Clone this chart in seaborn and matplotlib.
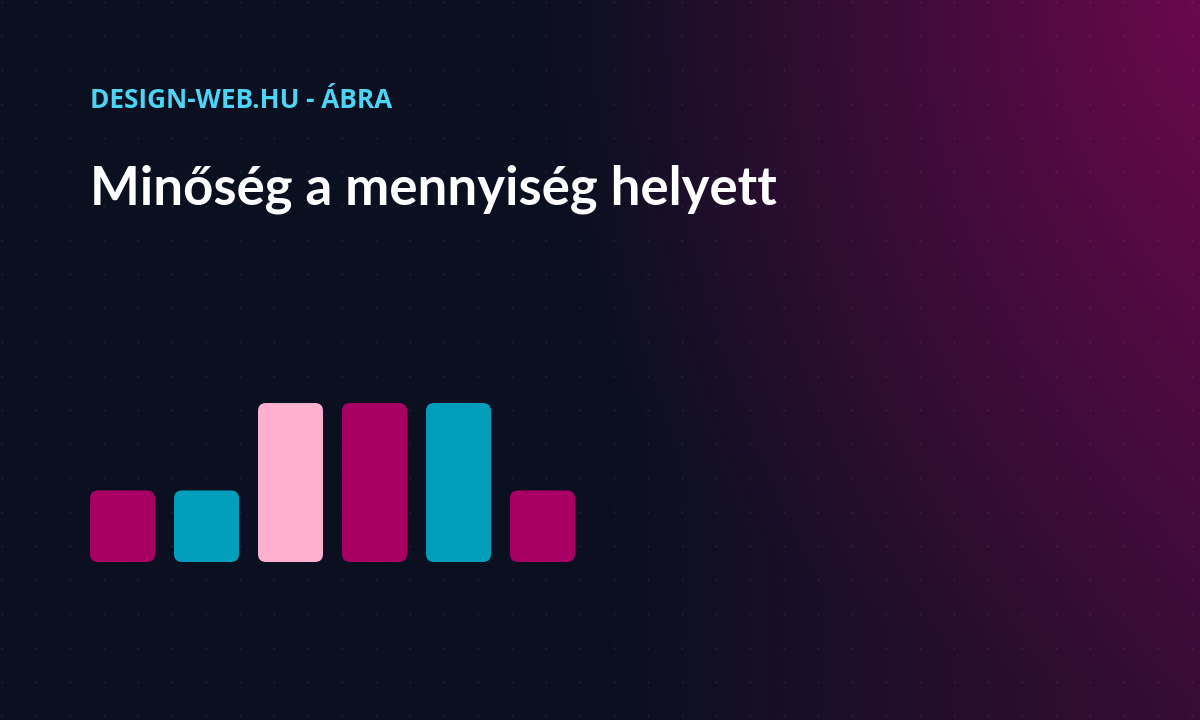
import numpy as np
import pandas as pd
import matplotlib.pyplot as plt
import seaborn as sns
from matplotlib.patches import FancyBboxPatch

sns.set_theme(style="white")
plt.rcParams['font.family'] = ['Open Sans', 'DejaVu Sans']

# chart data
categories = ["1", "2", "3", "4", "5", "6"]
values = [45, 45, 100, 100, 100, 45]
bar_colors = ["#A80062", "#009EBB", "#FFB0CF", "#A80062", "#009EBB", "#A80062"]
kicker = "DESIGN-WEB.HU - ÁBRA"
title = "Minőség a mennyiség helyett"

df = pd.DataFrame({"cat": categories, "value": values})

W, H = 1200, 720
fig = plt.figure(figsize=(12, 7.2), dpi=100)

# background: dark navy with magenta glow to the right
bg = fig.add_axes([0, 0, 1, 1])
xx, yy = np.meshgrid(np.arange(W) + 0.5, np.arange(H) + 0.5)
t_lin = np.clip((xx - 600) / 600, 0, 1)
t_rad = np.clip(1 - np.hypot(xx - W, yy) / 700, 0, 1)
t = (0.45 * t_lin + 0.5 * t_rad)[..., None]
base = np.array([10, 16, 32]) / 255
glow = np.array([112, 8, 80]) / 255
bg.imshow(base * (1 - t) + glow * t, extent=[0, W, H, 0], aspect="auto")
gx, gy = np.meshgrid(np.arange(2, W, 34), np.arange(2, H, 34))
bg.scatter(gx.ravel(), gy.ravel(), s=1.8, color="white", alpha=0.09, linewidths=0)
bg.set_xlim(0, W)
bg.set_ylim(H, 0)
bg.axis("off")

# bars
pitch = 84
left = 122.5 - pitch / 2
ax = fig.add_axes([left / W, (H - 562) / H, 6 * pitch / W, 159 / H])
ax.patch.set_alpha(0)
sns.barplot(data=df, x="cat", y="value", hue="cat", palette=bar_colors,
            width=65 / pitch, saturation=1, legend=False, ax=ax)
ax.set_xlim(-0.5, 5.5)
ax.set_ylim(0, 100)
ax.axis("off")

# swap the square bars for rounded ones
px_per_unit = 159 / 100
r = 8 / pitch
for p in list(ax.patches):
    x0, y0, w, h = p.get_x(), p.get_y(), p.get_width(), p.get_height()
    fc = p.get_facecolor()
    p.remove()
    ax.add_patch(FancyBboxPatch((x0, y0), w, h,
                                boxstyle=f"round,pad=0,rounding_size={r}",
                                mutation_aspect=pitch / px_per_unit,
                                facecolor=fc, edgecolor="none"))

fig.text(90 / W, 1 - 108.5 / H, kicker, fontsize=18.8, fontweight="bold",
         color="#4DD4F5", va="baseline", ha="left")
fig.text(90 / W, 1 - 205 / H, title, fontsize=38, fontweight="bold",
         color="white", va="baseline", ha="left", family=["Lato", "DejaVu Sans"])

fig.savefig("out.png", dpi=100)
